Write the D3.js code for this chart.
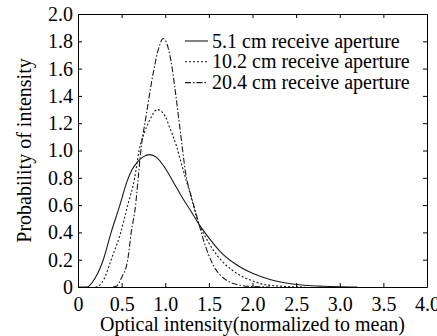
<!DOCTYPE html>
<html>
<head>
<meta charset="utf-8">
<script src="https://cdn.jsdelivr.net/npm/d3@7"></script>
<style>
  body { margin: 0; background: #fff; }
  svg, svg text { font-family: "Liberation Serif", "Times New Roman", Tinos, "DejaVu Serif", serif; }
</style>
</head>
<body>
<script>
// Values: [intensity, probability]
const aperture51 = [
  [0, 0], [0.1, 0], [0.2, 0.07], [0.29, 0.2], [0.38, 0.4], [0.48, 0.6], [0.56, 0.77],
  [0.62, 0.86], [0.68, 0.915], [0.75, 0.955], [0.82, 0.97], [0.9, 0.95], [1.0, 0.87], [1.1, 0.76],
  [1.2, 0.65], [1.3, 0.55], [1.38, 0.466], [1.5, 0.36], [1.63, 0.26], [1.8, 0.17],
  [2.0, 0.1], [2.2, 0.055], [2.4, 0.027], [2.6, 0.013], [2.8, 0.006], [3.0, 0.002], [3.2, 0]
];
const aperture102 = [
  [0.2, 0], [0.23, 0.005], [0.3, 0.06], [0.38, 0.2], [0.49, 0.4], [0.57, 0.6], [0.65, 0.8],
  [0.7, 1.0], [0.76, 1.13], [0.82, 1.22], [0.91, 1.3], [1.0, 1.25], [1.05, 1.17],
  [1.13, 1.03], [1.2, 0.87], [1.3, 0.65], [1.38, 0.47], [1.45, 0.38], [1.55, 0.27],
  [1.65, 0.19], [1.82, 0.1], [2.0, 0.045], [2.12, 0.02], [2.3, 0.007], [2.6, 0]
];
const aperture204 = [
  [0.4, 0], [0.44, 0.005], [0.5, 0.07], [0.57, 0.2], [0.61, 0.4], [0.66, 0.6], [0.69, 0.8],
  [0.72, 1.0], [0.78, 1.25], [0.86, 1.56], [0.93, 1.76], [0.975, 1.82], [1.02, 1.78],
  [1.08, 1.6], [1.11, 1.46], [1.19, 1.05], [1.23, 0.85], [1.3, 0.66], [1.37, 0.5],
  [1.44, 0.34], [1.55, 0.16], [1.7, 0.05], [1.85, 0.015], [2.0, 0.003], [2.2, 0]
];

const seriesNames = ["5.1 cm receive aperture", "10.2 cm receive aperture", "20.4 cm receive aperture"];
const xTicks = [0, 0.5, 1.0, 1.5, 2.0, 2.5, 3.0, 3.5, 4.0];
const xTickLabels = ["0", "0.5", "1.0", "1.5", "2.0", "2.5", "3.0", "3.5", "4.0"];
const yTicks = [0, 0.2, 0.4, 0.6, 0.8, 1.0, 1.2, 1.4, 1.6, 1.8, 2.0];
const yTickLabels = ["0", "0.2", "0.4", "0.6", "0.8", "1.0", "1.2", "1.4", "1.6", "1.8", "2.0"];

const width = 437;
const height = 336;
const margin = { top: 14, right: 10, bottom: 49, left: 78 };

const svg = d3.select("body")
  .append("svg")
  .attr("width", width)
  .attr("height", height);

const x = d3.scaleLinear().domain([0, 4]).range([margin.left, width - margin.right]);
const y = d3.scaleLinear().domain([0, 2]).range([height - margin.bottom, margin.top]);

const dashes = [null, "2,2", "6,2,1.5,2"];
const series = [aperture51, aperture102, aperture204];

const line = d3.line()
  .x(d => x(d[0]))
  .y(d => y(d[1]))
  .curve(d3.curveMonotoneX);

// curves
svg.append("g")
  .attr("fill", "none")
  .attr("stroke", "#1a1a1a")
  .attr("stroke-width", 1.1)
  .selectAll("path")
  .data(series)
  .join("path")
  .attr("stroke-dasharray", (d, i) => dashes[i])
  .attr("d", line);

// axes with inward ticks on all sides
function styleAxis(g) {
  g.attr("font-family", null).attr("font-size", null);
  g.selectAll(".domain").attr("stroke", "#000");
  g.selectAll(".tick line").attr("stroke", "#000");
  g.selectAll("text").attr("font-size", 20).attr("fill", "#000");
}

svg.append("g")
  .attr("transform", `translate(0,${y(0)})`)
  .call(d3.axisBottom(x).tickValues(xTicks).tickFormat((d, i) => xTickLabels[i])
    .tickSizeInner(-4).tickSizeOuter(0).tickPadding(10))
  .call(styleAxis);

svg.append("g")
  .attr("transform", `translate(0,${y(2)})`)
  .call(d3.axisTop(x).tickValues(xTicks).tickFormat("")
    .tickSizeInner(-4).tickSizeOuter(0))
  .call(styleAxis);

svg.append("g")
  .attr("transform", `translate(${x(0)},0)`)
  .call(d3.axisLeft(y).tickValues(yTicks).tickFormat((d, i) => yTickLabels[i])
    .tickSizeInner(-4).tickSizeOuter(0).tickPadding(5))
  .call(styleAxis);

svg.append("g")
  .attr("transform", `translate(${x(4)},0)`)
  .call(d3.axisRight(y).tickValues(yTicks).tickFormat("")
    .tickSizeInner(-4).tickSizeOuter(0))
  .call(styleAxis);

// axis titles
svg.append("text")
  .attr("x", (x(0) + x(4)) / 2)
  .attr("y", 331)
  .attr("text-anchor", "middle")
  .attr("font-size", 20)
  .text("Optical intensity(normalized to mean)");

svg.append("text")
  .attr("transform", `translate(31,${(y(0) + y(2)) / 2}) rotate(-90)`)
  .attr("text-anchor", "middle")
  .attr("font-size", 20)
  .text("Probability of intensity");

// legend
const legend = svg.append("g")
  .selectAll("g")
  .data(seriesNames)
  .join("g")
  .attr("transform", (d, i) => `translate(185,${41 + i * 20.8})`);

legend.append("line")
  .attr("x1", 0)
  .attr("x2", 23)
  .attr("stroke", "#1a1a1a")
  .attr("stroke-width", 1.1)
  .attr("stroke-dasharray", (d, i) => dashes[i]);

legend.append("text")
  .attr("x", 27)
  .attr("dy", "0.33em")
  .attr("font-size", 20)
  .text(d => d);
</script>
</body>
</html>
